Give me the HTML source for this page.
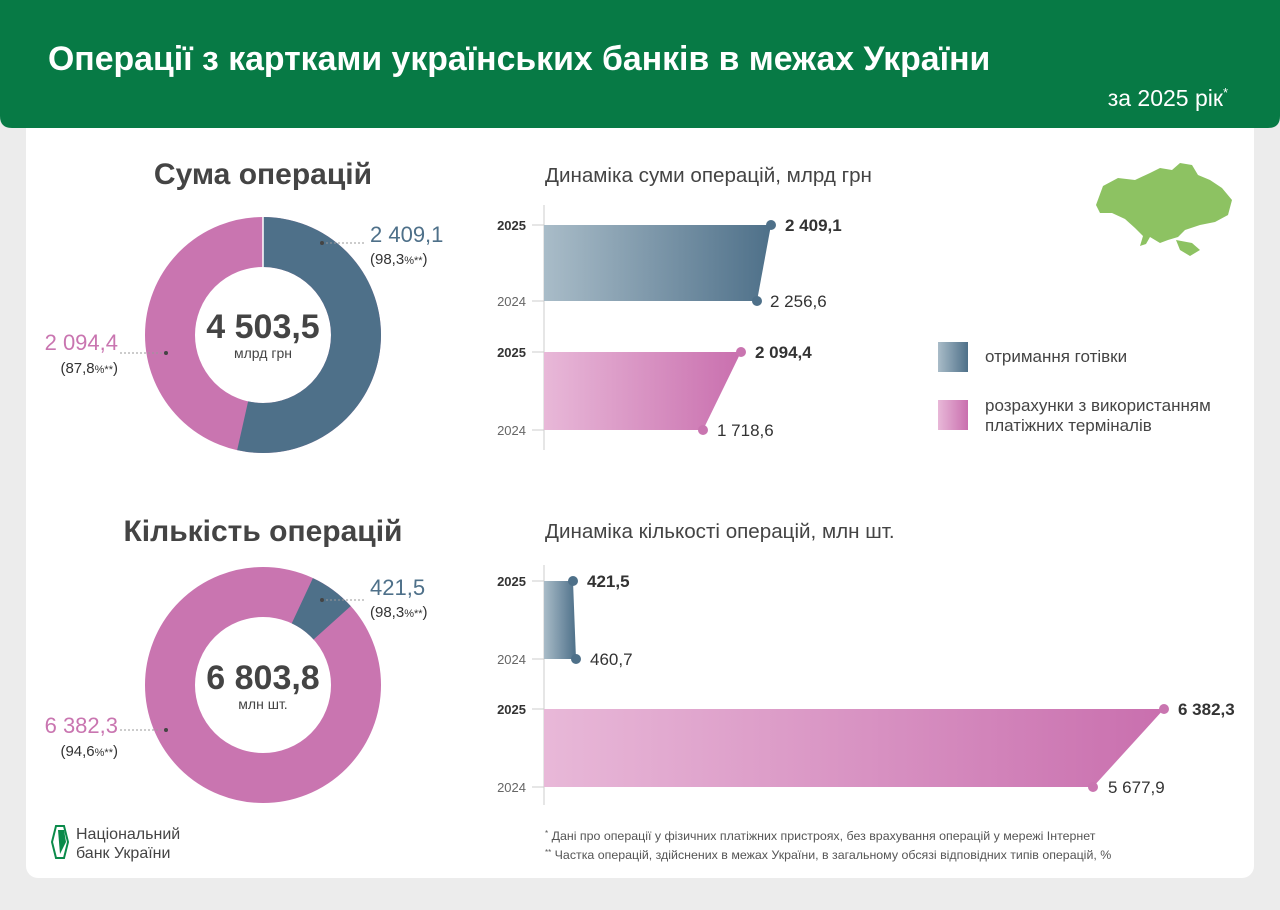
<!DOCTYPE html>
<html><head><meta charset="utf-8"><style>
body{margin:0;width:1280px;height:905px;background:#ececec;font-family:"Liberation Sans",sans-serif;overflow:hidden}
</style></head><body>
<svg width="1280" height="905" xmlns="http://www.w3.org/2000/svg" font-family="Liberation Sans, sans-serif">
<defs>
<linearGradient id="gb" x1="0" x2="1"><stop offset="0" stop-color="#a9bcc8"/><stop offset="1" stop-color="#4e7089"/></linearGradient>
<linearGradient id="gp" x1="0" x2="1"><stop offset="0" stop-color="#e8b8d8"/><stop offset="1" stop-color="#c96fae"/></linearGradient>
</defs>
<rect x="26" y="110" width="1228" height="768" rx="12" fill="#fff"/>
<path d="M0 0H1280V116Q1280 128 1268 128H12Q0 128 0 116Z" fill="#077a45"/>
<text x="48" y="70" font-size="33.8" font-weight="bold" fill="#fff">Операції з картками українських банків в межах України</text>
<text x="1228" y="106" font-size="23" fill="#fff" text-anchor="end">за 2025 рік<tspan font-size="13" dy="-9">*</tspan></text>

<text x="263" y="184" font-size="30" font-weight="bold" fill="#444" text-anchor="middle">Сума операцій</text>
<circle cx="263" cy="335" r="93" fill="none" stroke="#c975b0" stroke-width="50"/>
<circle cx="263" cy="335" r="93" fill="none" stroke="#4e7089" stroke-width="50" stroke-dasharray="312.6 584.3" transform="rotate(-90 263 335)"/>
<line x1="263" y1="217" x2="263" y2="267" stroke="#fff" stroke-width="1.5"/>
<text x="263" y="338" font-size="34" font-weight="bold" fill="#444" text-anchor="middle">4 503,5</text>
<text x="263" y="358" font-size="14" fill="#444" text-anchor="middle">млрд грн</text>
<line x1="322" y1="243" x2="366" y2="243" stroke="#999" stroke-dasharray="2 2"/><circle cx="322" cy="243" r="2" fill="#444"/>
<text x="370" y="242" font-size="22" fill="#4e7089">2 409,1</text>
<text x="370" y="264" font-size="15" fill="#333">(98,3<tspan font-size="11">%**</tspan>)</text>
<line x1="120" y1="353" x2="166" y2="353" stroke="#999" stroke-dasharray="2 2"/><circle cx="166" cy="353" r="2" fill="#444"/>
<text x="118" y="350" font-size="22" fill="#c975b0" text-anchor="end">2 094,4</text>
<text x="118" y="373" font-size="15" fill="#333" text-anchor="end">(87,8<tspan font-size="11">%**</tspan>)</text>

<text x="263" y="541" font-size="30" font-weight="bold" fill="#444" text-anchor="middle">Кількість операцій</text>
<circle cx="263" cy="685" r="93" fill="none" stroke="#c975b0" stroke-width="50"/>
<circle cx="263" cy="685" r="93" fill="none" stroke="#4e7089" stroke-width="50" stroke-dasharray="37.3 584.3" stroke-dashoffset="-40.6" transform="rotate(-90 263 685)"/>
<text x="263" y="689" font-size="34" font-weight="bold" fill="#444" text-anchor="middle">6 803,8</text>
<text x="263" y="709" font-size="14" fill="#444" text-anchor="middle">млн шт.</text>
<line x1="322" y1="600" x2="366" y2="600" stroke="#999" stroke-dasharray="2 2"/><circle cx="322" cy="600" r="2" fill="#444"/>
<text x="370" y="595" font-size="22" fill="#4e7089">421,5</text>
<text x="370" y="617" font-size="15" fill="#333">(98,3<tspan font-size="11">%**</tspan>)</text>
<line x1="120" y1="730" x2="166" y2="730" stroke="#999" stroke-dasharray="2 2"/><circle cx="166" cy="730" r="2" fill="#444"/>
<text x="118" y="733" font-size="22" fill="#c975b0" text-anchor="end">6 382,3</text>
<text x="118" y="756" font-size="15" fill="#333" text-anchor="end">(94,6<tspan font-size="11">%**</tspan>)</text>

<text x="545" y="182" font-size="20.6" fill="#444">Динаміка суми операцій, млрд грн</text>
<line x1="544" y1="205" x2="544" y2="450" stroke="#ccc"/>
<g font-size="13" text-anchor="end">
<text x="526" y="230" font-weight="bold" fill="#333">2025</text><text x="526" y="306" fill="#666">2024</text>
<text x="526" y="357" font-weight="bold" fill="#333">2025</text><text x="526" y="435" fill="#666">2024</text>
</g>
<g stroke="#ccc"><line x1="532" y1="225" x2="544" y2="225"/><line x1="532" y1="301" x2="544" y2="301"/><line x1="532" y1="352" x2="544" y2="352"/><line x1="532" y1="430" x2="544" y2="430"/></g>
<polygon points="544,225 771,225 757,301 544,301" fill="url(#gb)"/>
<polygon points="544,352 741,352 703,430 544,430" fill="url(#gp)"/>
<circle cx="771" cy="225" r="5" fill="#4e7089"/><circle cx="757" cy="301" r="5" fill="#4e7089"/>
<circle cx="741" cy="352" r="5" fill="#c975b0"/><circle cx="703" cy="430" r="5" fill="#c975b0"/>
<g font-size="17" fill="#333">
<text x="785" y="231" font-weight="bold">2 409,1</text><text x="770" y="307">2 256,6</text>
<text x="755" y="358" font-weight="bold">2 094,4</text><text x="717" y="436">1 718,6</text>
</g>

<rect x="938" y="342" width="30" height="30" fill="url(#gb)"/>
<text x="985" y="362" font-size="17" fill="#444">отримання готівки</text>
<rect x="938" y="400" width="30" height="30" fill="url(#gp)"/>
<text x="985" y="411" font-size="17" fill="#444">розрахунки з використанням</text>
<text x="985" y="431" font-size="17" fill="#444">платіжних терміналів</text>

<path d="M1096 205L1103 186L1118 178L1135 180L1150 173L1160 168L1172 170L1180 163L1192 165L1198 175L1210 180L1222 188L1232 200L1228 215L1215 222L1200 225L1185 230L1178 237L1168 240L1160 243L1150 237L1146 244L1140 246L1143 236L1135 228L1125 219L1112 213L1100 213Z" fill="#8dc262"/>
<path d="M1176 240L1192 243L1200 250L1190 256L1180 250Z" fill="#8dc262"/>

<text x="545" y="538" font-size="20.6" fill="#444">Динаміка кількості операцій, млн шт.</text>
<line x1="544" y1="565" x2="544" y2="805" stroke="#ccc"/>
<g font-size="13" text-anchor="end">
<text x="526" y="586" font-weight="bold" fill="#333">2025</text><text x="526" y="664" fill="#666">2024</text>
<text x="526" y="714" font-weight="bold" fill="#333">2025</text><text x="526" y="792" fill="#666">2024</text>
</g>
<g stroke="#ccc"><line x1="532" y1="581" x2="544" y2="581"/><line x1="532" y1="659" x2="544" y2="659"/><line x1="532" y1="709" x2="544" y2="709"/><line x1="532" y1="787" x2="544" y2="787"/></g>
<polygon points="544,581 573,581 576,659 544,659" fill="url(#gb)"/>
<polygon points="544,709 1164,709 1093,787 544,787" fill="url(#gp)"/>
<circle cx="573" cy="581" r="5" fill="#4e7089"/><circle cx="576" cy="659" r="5" fill="#4e7089"/>
<circle cx="1164" cy="709" r="5" fill="#c975b0"/><circle cx="1093" cy="787" r="5" fill="#c975b0"/>
<g font-size="17" fill="#333">
<text x="587" y="587" font-weight="bold">421,5</text><text x="590" y="665">460,7</text>
<text x="1178" y="715" font-weight="bold">6 382,3</text><text x="1108" y="793">5 677,9</text>
</g>

<g font-size="12.4" fill="#555">
<text x="545" y="840"><tspan font-size="8" dy="-4">*</tspan><tspan dy="4"> Дані про операції у фізичних платіжних пристроях, без врахування операцій у мережі Інтернет</tspan></text>
<text x="545" y="859"><tspan font-size="8" dy="-4">**</tspan><tspan dy="4"> Частка операцій, здійснених в межах України, в загальному обсязі відповідних типів операцій, %</tspan></text>
</g>

<path d="M56 826L64 826L68 842L64 858L56 858L52 842Z" fill="none" stroke="#0a8a4a" stroke-width="2"/>
<path d="M58 830L64 830L66 842L60 854Z" fill="#0a8a4a"/>
<text x="76" y="839" font-size="16" fill="#444">Національний</text>
<text x="76" y="858" font-size="16" fill="#444">банк України</text>
</svg>
</body></html>
